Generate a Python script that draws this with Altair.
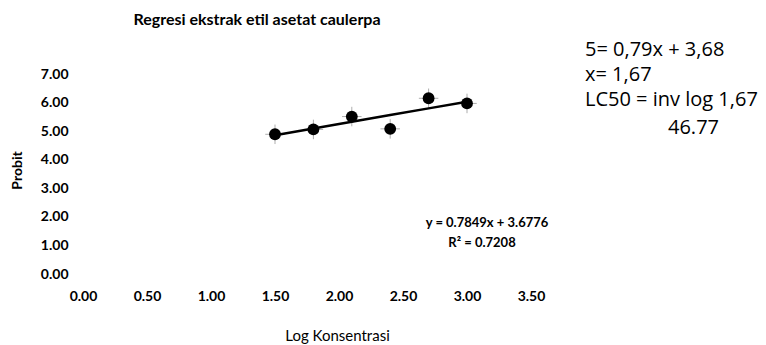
import altair as alt
import pandas as pd

# Probit analysis data (log concentration vs probit)
log_konsentrasi = [1.5, 1.8, 2.1, 2.4, 2.7, 3.0]
probit = [4.89, 5.06, 5.51, 5.08, 6.15, 5.97]

# Linear trendline reported for the series
slope = 0.7849
intercept = 3.6776
r_squared = 0.7208

x_ticks = [0.0, 0.5, 1.0, 1.5, 2.0, 2.5, 3.0, 3.5]
y_ticks = [0, 1, 2, 3, 4, 5, 6, 7]

chart_title = "Regresi ekstrak etil asetat caulerpa"
x_title = "Log Konsentrasi"
y_title = "Probit"
lc50_notes = ["5= 0,79x + 3,68", "x= 1,67", "LC50 = inv log 1,67"]
lc50_value = "46.77"

df = pd.DataFrame({"x": log_konsentrasi, "y": probit})

LABEL_FONT = "Lato"
NOTE_FONT = "Open Sans"

axis_style = dict(
    domain=False, ticks=False, grid=False, labelOverlap=False, labelFlush=False,
    labelFont=LABEL_FONT, labelFontWeight="bold", labelFontSize=14, labelColor="black",
    titleFont=LABEL_FONT, titleColor="black",
)

x_scale = alt.Scale(domain=[0, 3.5], nice=False, zero=False)
x_axis = alt.Axis(
    values=x_ticks, format=".2f", title=x_title,
    labelPadding=15, titleX=254, titleY=61,
    titleAlign="center", titleBaseline="middle",
    titleFontWeight="normal", titleFontSize=15, **axis_style,
)
y_scale = alt.Scale(domain=[0, 7], nice=False, zero=False)
y_axis = alt.Axis(
    values=y_ticks, format=".2f", title=y_title,
    labelPadding=15, titleX=-66, titleY=96,
    titleAlign="center", titleBaseline="middle", titleAngle=270,
    titleFontWeight="bold", titleFontSize=14, **axis_style,
)

base = alt.Chart(df)

crosses = base.mark_point(
    shape="M-1,0L1,0M0,-1L0,1", size=380, stroke="#8c8c8c", strokeWidth=1, filled=False
).encode(
    x=alt.X("x:Q", scale=x_scale, axis=x_axis),
    y=alt.Y("y:Q", scale=y_scale, axis=y_axis),
)

points = base.mark_circle(size=140, color="black", opacity=1).encode(
    x=alt.X("x:Q", scale=x_scale, axis=x_axis),
    y=alt.Y("y:Q", scale=y_scale, axis=y_axis),
)

trend = base.transform_calculate(
    fit=f"{intercept} + {slope} * datum.x"
).mark_line(color="black", strokeWidth=2.5).encode(
    x=alt.X("x:Q", scale=x_scale, axis=x_axis),
    y=alt.Y("fit:Q", scale=y_scale, axis=y_axis),
)


def note(text, x, y, align="left", size=20, font=NOTE_FONT, weight="normal", line_height=None):
    kw = dict(align=align, baseline="middle", fontSize=size, font=font,
              fontWeight=weight, color="black")
    if line_height is not None:
        kw.update(lineBreak="\n", lineHeight=line_height)
    return alt.Chart(pd.DataFrame({"t": [text]})).mark_text(**kw).encode(
        x=alt.value(x), y=alt.value(y), text="t:N"
    )


title_txt = note(chart_title, 174, -54, align="center", size=16, font=LABEL_FONT, weight="bold")
eq_txt = note(f"y = {slope}x + {intercept}", 404, 149, align="center", size=13,
              font=LABEL_FONT, weight="bold")
r2_txt = note(f"R² = {r_squared}", 399, 169, align="center", size=13,
              font=LABEL_FONT, weight="bold")
notes_txt = note("\n".join(lc50_notes), 502, -24, line_height=25)
value_txt = note(lc50_value, 585, 54)

chart = alt.layer(
    crosses, points, trend, title_txt, eq_txt, r2_txt, notes_txt, value_txt
).properties(
    width=448, height=200,
    autosize=alt.AutoSizeParams(type="none"),
    padding={"left": 83, "top": 74, "right": 235, "bottom": 71},
).configure(background="white").configure_view(stroke=None)

chart.save("out.html", embed_options={"renderer": "svg", "actions": False})
